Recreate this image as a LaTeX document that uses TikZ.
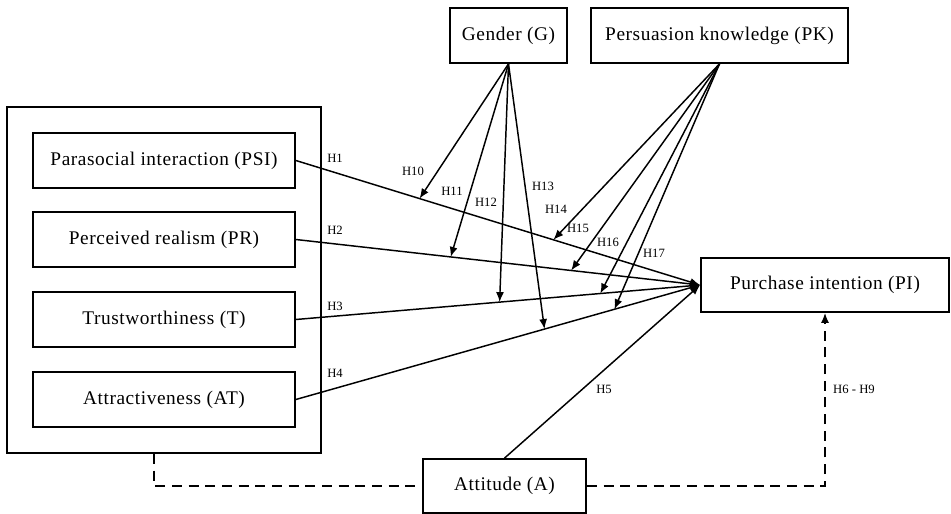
\documentclass[tikz,border=0pt]{standalone}
\usepackage{fontspec}
\setmainfont{Liberation Serif}
\newfontfamily\boxfont[LetterSpace=3]{Liberation Serif}
\usetikzlibrary{arrows.meta,calc}
\tikzset{
  box/.style={draw, line width=1.3pt, rectangle, inner sep=0pt, font=\boxfont\fontsize{14.5}{17}\selectfont},
  tip/.style={-{Latex[length=7.5pt,width=6pt]}},
  link/.style={line width=1.1pt, tip},
  dlink/.style={line width=1.2pt, dash pattern=on 7.5pt off 5pt},
  hlab/.style={font=\fontsize{9.5}{10}\selectfont, inner sep=0pt}
}
\begin{document}
\begin{tikzpicture}[x=0.75pt,y=-0.75pt]
\useasboundingbox (0,0) rectangle (951,514);
% boxes
\node[box, minimum width={314*0.75pt}, minimum height={346*0.75pt}] (outer) at (164,280) {};
\node[box, minimum width={262*0.75pt}, minimum height={55*0.75pt}] (psi) at (164,160.5) {Parasocial interaction (PSI)};
\node[box, minimum width={262*0.75pt}, minimum height={55*0.75pt}] (pr) at (164,239.5) {Perceived realism (PR)};
\node[box, minimum width={262*0.75pt}, minimum height={55*0.75pt}] (t) at (164,319.5) {Trustworthiness (T)};
\node[box, minimum width={262*0.75pt}, minimum height={55*0.75pt}] (at) at (164,399.5) {Attractiveness (AT)};
\node[box, minimum width={117*0.75pt}, minimum height={55*0.75pt}] (g) at (508.5,35.5) {Gender (G)};
\node[box, minimum width={257*0.75pt}, minimum height={55*0.75pt}] (pk) at (719.5,35.5) {Persuasion knowledge (PK)};
\node[box, minimum width={248*0.75pt}, minimum height={54*0.75pt}] (pi) at (825,285) {Purchase intention (PI)};
\node[box, minimum width={163*0.75pt}, minimum height={54*0.75pt}] (a) at (504.5,486) {Attitude (A)};
% direct paths
\draw[link] (psi.east) -- (pi.west);
\draw[link] (pr.east) -- (pi.west);
\draw[link] (t.east) -- (pi.west);
\draw[link] (at.east) -- (pi.west);
\draw[link] (a.north) -- (pi.west);
% moderation points
\coordinate (m10) at ($(psi.east)!0.306!(pi.west)$);
\coordinate (m14) at ($(psi.east)!0.637!(pi.west)$);
\coordinate (m11) at ($(pr.east)!0.383!(pi.west)$);
\coordinate (m15) at ($(pr.east)!0.681!(pi.west)$);
\coordinate (m12) at ($(t.east)!0.504!(pi.west)$);
\coordinate (m16) at ($(t.east)!0.753!(pi.west)$);
\coordinate (m13) at ($(at.east)!0.615!(pi.west)$);
\coordinate (m17) at ($(at.east)!0.788!(pi.west)$);
\foreach \m in {m10,m11,m12,m13} \draw[link] (g.south) -- (\m);
\foreach \m in {m14,m15,m16,m17} \draw[link] (pk.south) -- (\m);
% dashed mediation
\coordinate (d1) at ($(outer.south west)+(148,0)$);
\draw[dlink] (d1) |- (a.west);
\draw[dlink, tip] (a.east) -| (pi.south);
% labels
\node[hlab] (l1) at (335,158) {H1};
\node[hlab] (l2) at (335,230) {H2};
\node[hlab] (l3) at (335,306) {H3};
\node[hlab] (l4) at (335,373) {H4};
\node[hlab] (l5) at (604,389) {H5};
\node[hlab] (l69) at (854,389) {H6 - H9};
\node[hlab] (l10) at (413,171) {H10};
\node[hlab] (l11) at (452,191) {H11};
\node[hlab] (l12) at (486,202) {H12};
\node[hlab] (l13) at (543,186) {H13};
\node[hlab] (l14) at (556,209) {H14};
\node[hlab] (l15) at (578,228) {H15};
\node[hlab] (l16) at (608,242) {H16};
\node[hlab] (l17) at (654,253) {H17};
\end{tikzpicture}
\end{document}
